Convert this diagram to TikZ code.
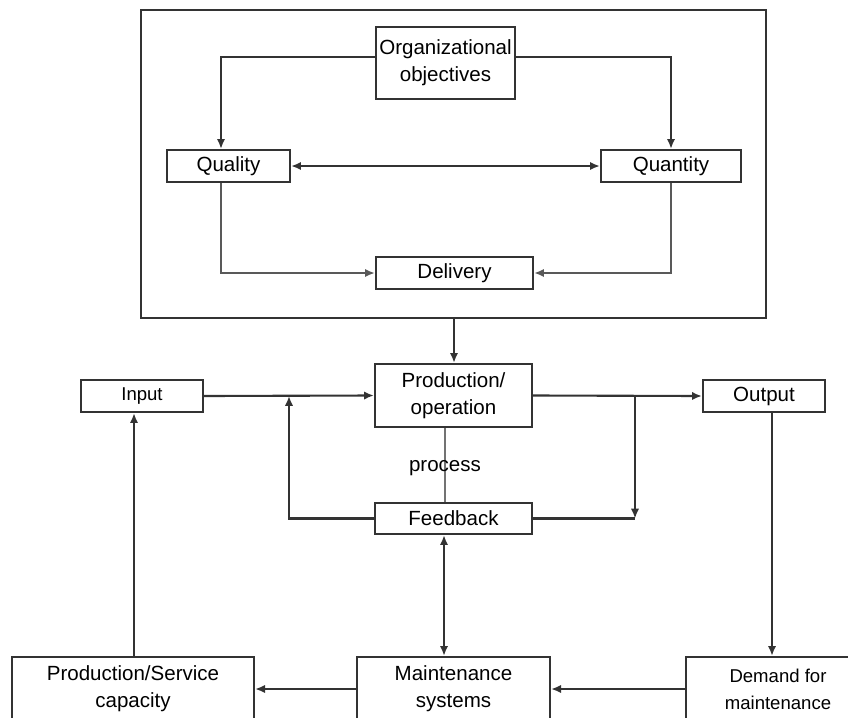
\documentclass[tikz,border=0pt]{standalone}
\usepackage{fontspec}
\setmainfont{Liberation Sans}
\usetikzlibrary{arrows.meta}

\tikzset{
	blk/.style={draw=black!80,line width=1.6pt,inner sep=0pt,align=center,font=\fontsize{14.6}{19.2}\selectfont},
	conn/.style={draw=black!80,line width=1.5pt},
	arr/.style={conn,-{Latex[length=7pt,width=6pt]}},
	darr/.style={conn,{Latex[length=7pt,width=6pt]}-{Latex[length=7pt,width=6pt]}}
}

\begin{document}
\begin{tikzpicture}[x=0.025cm,y=-0.025cm]
			\useasboundingbox (0,0) rectangle (848,717);
			\clip (0,0) rectangle (848,717);
			
			% objectives frame
			\draw[conn,line width=1.7pt] (141,10) rectangle (766,318);
			\coordinate (framebot) at (454,318);
			
			\node[blk,minimum width=3.475cm,minimum height=1.8cm] (org) at (445.5,63) {Organizational\\objectives};
			\node[blk,minimum width=3.075cm,minimum height=0.8cm] (qual) at (228.5,166) {Quality};
			\node[blk,minimum width=3.5cm,minimum height=0.8cm] (quan) at (671,166) {Quantity};
			\node[blk,minimum width=3.925cm,minimum height=0.8cm] (deliv) at (454.5,273) {Delivery};
			
			% process loop
			\node[blk,minimum width=3.925cm,minimum height=1.575cm] (prod) at (453.5,395.5) {Production/\\operation};
			\node[blk,minimum width=3.05cm,minimum height=0.8cm,font=\fontsize{13.2}{17}\selectfont] (input) at (142,396) {Input};
			\node[blk,minimum width=3.05cm,minimum height=0.8cm] (output) at (764,396) {Output};
			\node[blk,minimum width=3.925cm,minimum height=0.775cm] (fb) at (453.5,518.5) {Feedback};
			\coordinate (split) at (635,397);
			
			% maintenance row
			\node[blk,minimum width=6.05cm,minimum height=1.6cm] (psc) at (133,689) {Production/Service\\capacity};
			\node[blk,minimum width=4.825cm,minimum height=1.6cm] (maint) at (453.5,689) {Maintenance\\systems};
			\node[blk,minimum width=4.6cm,minimum height=1.6cm,font=\fontsize{13.2}{19.2}\selectfont] (demand) at (778,689) {Demand for\\maintenance};
			
			\draw[arr] (org.west |- 0,57) -| (221,0 |- qual.north);
			\draw[arr] (org.east |- 0,57) -| (671,0 |- quan.north);
			\draw[darr] (qual.east) -- (quan.west);
			\draw[arr,draw=black!65] (221,0 |- qual.south) |- (deliv.west);
			\draw[arr,draw=black!65] (671,0 |- quan.south) |- (deliv.east);
			
			\draw[arr] (framebot) -- (framebot |- prod.north);
			\draw[arr] (input.east) -- (prod.west);
			\draw[arr] (prod.east) -- (output.west);
			\draw[conn] (fb.east) -- (fb.east -| split);
			\draw[arr] (split) -- (split |- fb.east);
			\draw[arr] (fb.west) -| (289,0 |- input.east);
			\draw[conn,draw=black!55] (445,0 |- prod.south) -- (445,0 |- fb.north);
			\node[font=\fontsize{14.6}{19.2}\selectfont] (proc) at (445,468) {process};
			
			\draw[darr] (444,0 |- fb.south) -- (444,0 |- maint.north);
			\draw[arr] (772,0 |- output.south) -- (772,0 |- demand.north);
			\draw[arr] (134,0 |- psc.north) -- (134,0 |- input.south);
			\draw[arr] (maint.west) -- (psc.east);
			\draw[arr] (demand.west) -- (maint.east);
		\end{tikzpicture}
\end{document}
